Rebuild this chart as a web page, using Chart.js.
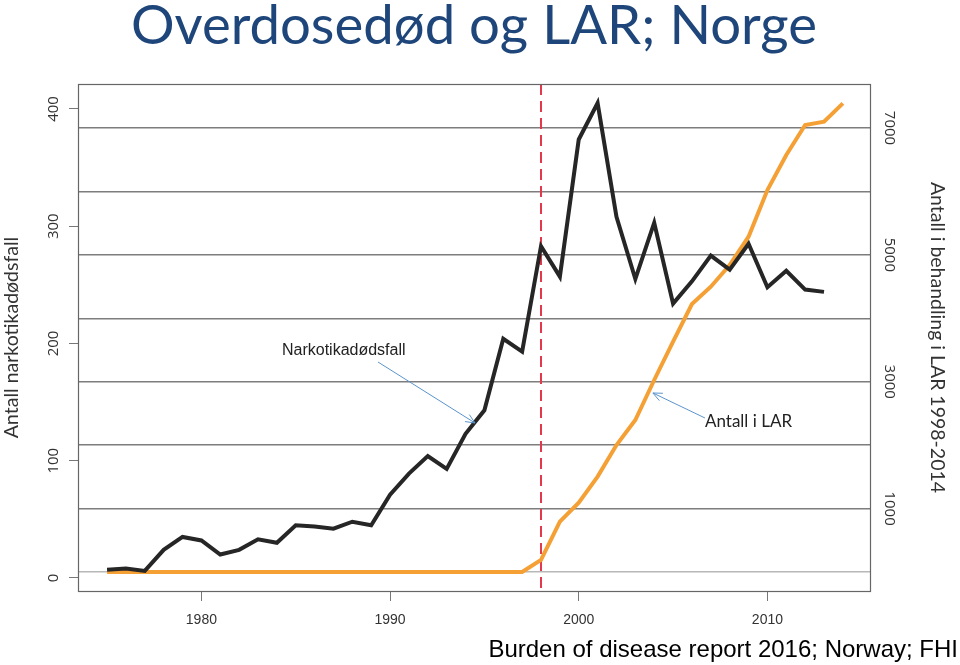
<!DOCTYPE html>
<html><head><meta charset="utf-8">
<script src="https://cdn.jsdelivr.net/npm/chart.js@4.4.1/dist/chart.umd.min.js"></script>
<style>
html,body{margin:0;padding:0;background:#fff;}
#wrap{position:relative;width:960px;height:665px;overflow:hidden;background:#fff;}
#title{position:absolute;left:0;width:948px;top:-5px;text-align:center;font-family:Lato,'Open Sans',sans-serif;font-size:54.5px;line-height:56px;color:#1F467A;white-space:nowrap;}
#foot{position:absolute;right:2px;top:637px;font-family:'Liberation Sans',Arial,sans-serif;font-size:24px;line-height:24px;color:#000;white-space:nowrap;}
canvas{position:absolute;left:0;top:0;}
</style></head><body>
<div id="wrap"><canvas id="c" width="960" height="665"></canvas>
<div id="title">Overdosedød og LAR; Norge</div>
<div id="foot">Burden of disease report 2016; Norway; FHI</div></div>
<script>
// ---- data ----
const deathYears = [1975,1976,1977,1978,1979,1980,1981,1982,1983,1984,1985,1986,1987,1988,1989,1990,1991,1992,1993,1994,1995,1996,1997,1998,1999,2000,2001,2002,2003,2004,2005,2006,2007,2008,2009,2010,2011,2012,2013];
const deaths = [7,8,6,24,35,32,20,24,33,30,45,44,42,48,45,71,89,104,93,123,143,204,193,283,257,374,405,308,255,303,234,253,275,263,285,248,262,246,244];
const larYears = [1975,1976,1977,1978,1979,1980,1981,1982,1983,1984,1985,1986,1987,1988,1989,1990,1991,1992,1993,1994,1995,1996,1997,1998,1999,2000,2001,2002,2003,2004,2005,2006,2007,2008,2009,2010,2011,2012,2013,2014];
const larPatients = [0,0,0,0,0,0,0,0,0,0,0,0,0,0,0,0,0,0,0,0,0,0,0,189,793,1093,1503,2002,2396,3027,3631,4225,4498,4840,5286,6022,6574,7047,7099,7389];
const xTickLabels = [1980,1990,2000,2010];
const leftTickLabels = [0,100,200,300,400];
const rightGridValues = [0,1000,2000,3000,4000,5000,6000,7000];
const rightTickLabels = [1000,3000,5000,7000];
const larStartYear = 1998;
const notes = [
  {text:'Narkotikadødsfall', axis:'y', at:[1984.27,193.6], from:[1989.36,184.2], tip:[1994.5,132.2], font:"16px 'Liberation Sans', Arial"},
  {text:'Antall i LAR', axis:'y1', at:[2006.69,2370], from:[2006.69,2428], tip:[2003.93,2822], font:"17px Lato, 'Open Sans'"}
];

const frameAndMarks = {
  id:'frameAndMarks',
  beforeDatasetsDraw(chart){
    const {ctx, chartArea:a, scales} = chart;
    const x = scales.x.getPixelForValue(larStartYear);
    ctx.save();
    ctx.strokeStyle = '#e2394c'; ctx.lineWidth = 2; ctx.setLineDash([11,6]);
    ctx.beginPath(); ctx.moveTo(x, a.top); ctx.lineTo(x, a.bottom); ctx.stroke();
    ctx.restore();
  },
  afterDatasetsDraw(chart){
    const {ctx, chartArea:a, scales} = chart;
    ctx.save();
    ctx.strokeStyle = '#666'; ctx.lineWidth = 1.2;
    ctx.strokeRect(a.left+0.5, a.top+0.5, a.right-a.left-1, a.bottom-a.top);
    for (const n of notes){
      const ys = scales[n.axis];
      const px = v => [scales.x.getPixelForValue(v[0]), ys.getPixelForValue(v[1])];
      const [tx,ty] = px(n.at), [fx,fy] = px(n.from), [kx,ky] = px(n.tip);
      ctx.fillStyle = '#222'; ctx.font = n.font; ctx.textAlign='left'; ctx.textBaseline='middle';
      ctx.fillText(n.text, tx, ty);
      ctx.strokeStyle = '#5a94cc'; ctx.lineWidth = 1;
      ctx.beginPath(); ctx.moveTo(fx,fy); ctx.lineTo(kx,ky); ctx.stroke();
      const ang = Math.atan2(ky-fy, kx-fx), L = 10, w = 0.42;
      ctx.beginPath();
      ctx.moveTo(kx - L*Math.cos(ang-w), ky - L*Math.sin(ang-w));
      ctx.lineTo(kx,ky);
      ctx.lineTo(kx - L*Math.cos(ang+w), ky - L*Math.sin(ang+w));
      ctx.stroke();
    }
    ctx.restore();
  }
};

const tickFont = {family:"'Open Sans', sans-serif", size:15};
const axisTitleFont = {family:"Lato, 'Open Sans'", size:19.5};
new Chart(document.getElementById('c'), {
  type:'line',
  data:{datasets:[
    {label:'Narkotikadødsfall', data:deathYears.map((y,i)=>({x:y,y:deaths[i]})), yAxisID:'y',
     borderColor:'#262626', borderWidth:4, pointRadius:0, tension:0, order:0},
    {label:'Antall i LAR', data:larYears.map((y,i)=>({x:y,y:larPatients[i]})), yAxisID:'y1',
     borderColor:'#f5a035', borderWidth:4, pointRadius:0, tension:0, order:1}
  ]},
  options:{
    responsive:false, animation:false, events:[],
    layout:{padding:{top:84,left:0,right:0,bottom:0}},
    plugins:{legend:{display:false}, tooltip:{enabled:false}},
    scales:{
      x:{type:'linear', position:'bottom', min:1973.46, max:2015.49,
        afterBuildTicks:s=>{s.ticks = xTickLabels.map(v=>({value:v}));},
        afterFit:s=>{s.height = 74;},
        grid:{drawOnChartArea:false, drawTicks:true, tickLength:10, color:'#777', lineWidth:1},
        border:{display:false},
        ticks:{autoSkip:false, maxRotation:0, padding:11, color:'#333',
          font:{family:"'Liberation Sans Narrow','Liberation Sans',Arial", size:14}, callback:v=>String(v)}},
      y:{type:'linear', position:'left', min:-11.1, max:421.3,
        afterBuildTicks:s=>{s.ticks = leftTickLabels.map(v=>({value:v}));},
        afterFit:s=>{s.width = 78;},
        grid:{drawOnChartArea:false, drawTicks:true, tickLength:9, color:'#777'},
        border:{display:false},
        ticks:{minRotation:90, maxRotation:90, crossAlign:'center', padding:2, autoSkip:false, color:'#333', font:tickFont, callback:v=>String(v)},
        title:{display:true, text:'Antall narkotikadødsfall', color:'#333', font:axisTitleFont, padding:{top:0,bottom:0}}},
      y1:{type:'linear', position:'right', min:-300, max:7694,
        afterBuildTicks:s=>{s.ticks = rightGridValues.map(v=>({value:v}));},
        afterFit:s=>{s.width = 89;},
        grid:{drawOnChartArea:true, drawTicks:false, lineWidth:1.5, color:c=>(c.tick && c.tick.value===0)?'#b8b8b8':'#7d7d7d'},
        border:{display:false},
        ticks:{minRotation:-90, maxRotation:-90, crossAlign:'center', padding:1, autoSkip:false, color:'#333', font:tickFont,
          callback:v=>rightTickLabels.includes(v)?String(v):''},
        title:{display:true, text:'Antall i behandling i LAR 1998-2014', color:'#333', font:axisTitleFont, padding:{top:11,bottom:0}}}
    }
  },
  plugins:[frameAndMarks]
});
</script>
</body></html>
